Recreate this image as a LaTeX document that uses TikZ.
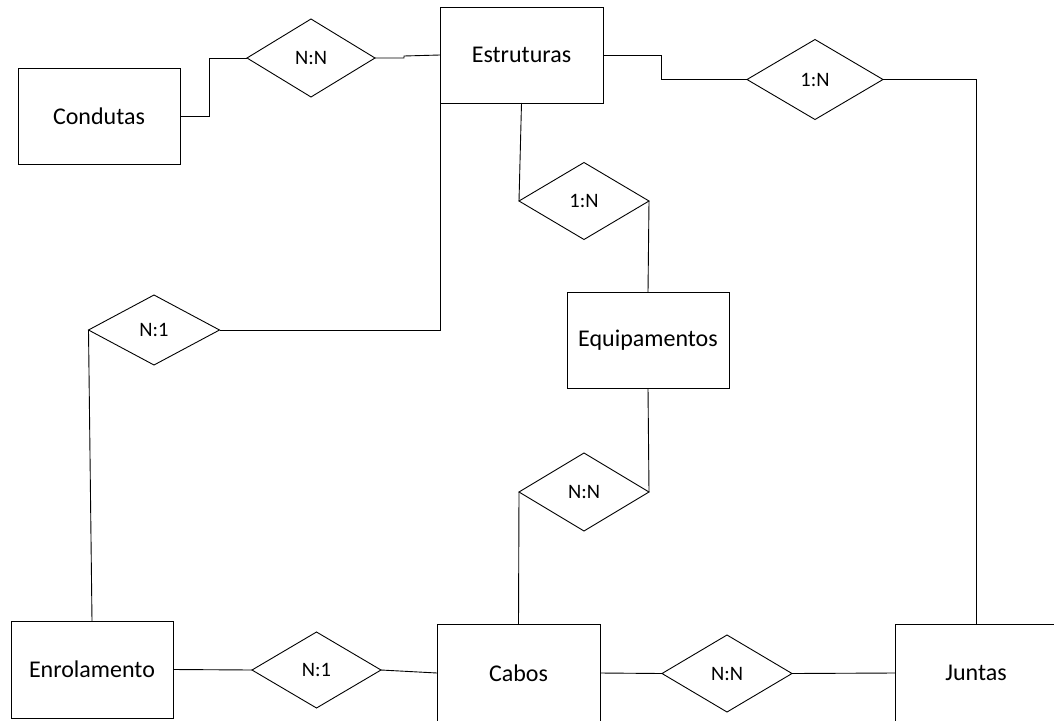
\documentclass[tikz,border=0pt]{standalone}
\usepackage{fontspec}
\setmainfont{Carlito}
\usetikzlibrary{shapes.geometric}
\begin{document}
\begin{tikzpicture}[x=1pt,y=-1pt,
  line width=0.9pt,
  entity/.style={draw,rectangle,inner sep=0pt,outer sep=0pt,
    font=\fontsize{24}{28}\selectfont},
  relation/.style={draw,diamond,inner sep=0pt,outer sep=0pt,
    font=\fontsize{20.5}{24}\selectfont},
  link/.style={draw,line width=0.9pt}]
\useasboundingbox (0,0) rectangle (1054,720);
\clip (0,0) rectangle (1054,720);

% entities
\node[entity,minimum width=162pt,minimum height=96pt] (condutas) at (99,116) {Condutas};
\node[entity,minimum width=163pt,minimum height=96pt] (estruturas) at (521.5,55) {Estruturas};
\node[entity,minimum width=162pt,minimum height=96pt] (equip) at (648,340) {Equipamentos};
\node[entity,minimum width=162pt,minimum height=97pt] (enrol) at (92,669.5) {Enrolamento};
\node[entity,minimum width=163pt,minimum height=98pt] (cabos) at (518.5,673) {Cabos};
\node[entity,minimum width=162pt,minimum height=98pt] (juntas) at (976,673) {Juntas};

% relationships
\node[relation,minimum width=128pt,minimum height=78pt] (r1) at (311,58) {N:N};
\node[relation,minimum width=136pt,minimum height=80pt] (r2) at (815,79.5) {1:N};
\node[relation,minimum width=130pt,minimum height=77pt] (r3) at (584,201) {1:N};
\node[relation,minimum width=131pt,minimum height=70pt] (r4) at (154,330) {N:1};
\node[relation,minimum width=130pt,minimum height=78pt] (r5) at (584,492) {N:N};
\node[relation,minimum width=129pt,minimum height=76pt] (r6) at (316.5,670) {N:1};
\node[relation,minimum width=130pt,minimum height=77pt] (r7) at (727,673.5) {N:N};

% connectors
\draw[link] (condutas.east) -- ++(29,0) |- (r1.west);
\draw[link] (r1.east) -- ++(29,0) -- ++(0,-2) -- (estruturas.west);
\draw[link] (estruturas.east) -- ++(58,0) |- (r2.west);
\draw[link] (r2.east) -| (juntas.north);
\draw[link] (estruturas.south) -- (r3.west);
\draw[link] (r3.east) -- (equip.north);
\draw[link] (equip.south) -- (r5.east);
\draw[link] (r5.west) -- (cabos.north);
\draw[link] (r4.east) -| (estruturas.south west);
\draw[link] (r4.west) -- (enrol.north);
\draw[link] (enrol.east) -- (r6.west);
\draw[link] (r6.east) -- (cabos.west);
\draw[link] (cabos.east) -- (r7.west);
\draw[link] (r7.east) -- (juntas.west);
\end{tikzpicture}
\end{document}
